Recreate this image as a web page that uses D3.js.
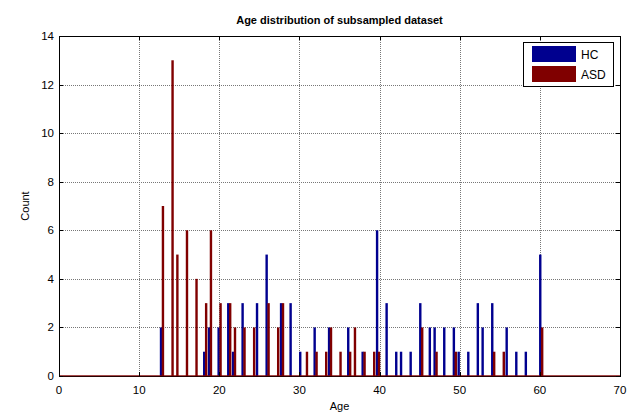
<!DOCTYPE html>
<html>
<head>
<meta charset="utf-8">
<script src="https://cdn.jsdelivr.net/npm/d3@7"></script>
<style>
  body { margin: 0; background: #fff; }
  svg { font-family: "Liberation Sans", Arial, sans-serif; }
</style>
</head>
<body>
<div id="chart"></div>
<script>
/* ---- data ---- */
var ages = [12.85,14.05,14.65,15.85,17.04,18.24,18.84,20.04,21.24,21.84,23.03,24.23,24.83,26.03,27.23,27.83,
            29.02,30.22,30.82,32.02,33.22,33.82,35.01,36.21,36.81,38.01,39.21,39.81,41.00,42.20,42.80,44.00,
            45.20,46.39,46.99,48.19,49.39,49.99,51.19,52.38,52.98,54.18,55.38,55.98,57.18,58.37,60.17];
var hcCounts  = [2,0,0,0,0,1,2,2,3,1,3,0,3,5,0,3,3,1,0,2,0,2,0,2,0,1,0,6,3,1,1,1,3,2,2,2,2,1,1,3,2,3,0,2,1,1,5];
var asdCounts = [7,13,5,6,4,3,6,3,3,2,2,2,0,3,2,3,0,0,1,1,1,2,1,1,2,1,1,1,0,0,0,0,2,0,1,0,1,0,0,0,0,1,1,0,0,0,2];
var seriesNames = ["HC", "ASD"];
var xTicks = [0,10,20,30,40,50,60,70];
var yTicks = [0,2,4,6,8,10,12,14];

var W = 643, H = 412;
// NB: "top" is taken by window.top, so plot edges get their own names
var plotL = 59, plotR = 620, plotT = 36, plotB = 376;
var colors = {HC: "#00008f", ASD: "#800000"};

var svg = d3.select("#chart").append("svg")
    .attr("width", W)
    .attr("height", H);

var x = d3.scaleLinear().domain([0, 70]).range([plotL, plotR]);
var y = d3.scaleLinear().domain([0, 14]).range([plotB, plotT]);

// grid (dotted, matlab style)
var grid = svg.append("g").attr("class", "grid");
xTicks.slice(1, -1).forEach(function(t){
    grid.append("line")
        .attr("x1", Math.round(x(t)) + 0.5).attr("x2", Math.round(x(t)) + 0.5)
        .attr("y1", plotT).attr("y2", plotB)
        .attr("stroke", "#777").attr("stroke-width", 1)
        .attr("stroke-dasharray", "1,1");
});
yTicks.slice(1, -1).forEach(function(t){
    grid.append("line")
        .attr("x1", plotL).attr("x2", plotR)
        .attr("y1", Math.round(y(t)) + 0.5).attr("y2", Math.round(y(t)) + 0.5)
        .attr("stroke", "#777").attr("stroke-width", 1)
        .attr("stroke-dasharray", "1,1");
});

// bars: HC left of bin centre, ASD right
var off = 0.12, bw = 0.3;
var rows = ages.map(function(a, i){ return {age: a, HC: hcCounts[i], ASD: asdCounts[i]}; });

seriesNames.forEach(function(name, s){
    svg.append("g").selectAll("rect")
        .data(rows.filter(function(d){ return d[name] > 0; }))
        .enter().append("rect")
        .attr("x", function(d){ return x(d.age + (s == 0 ? -off : off) - bw / 2); })
        .attr("width", x(bw) - x(0))
        .attr("y", function(d){ return y(d[name]); })
        .attr("height", function(d){ return y(0) - y(d[name]); })
        .attr("fill", colors[name]);
});

// axes box
svg.append("rect")
    .attr("x", plotL + 0.5).attr("y", plotT + 0.5)
    .attr("width", plotR - plotL).attr("height", plotB - plotT)
    .attr("fill", "none").attr("stroke", "#000").attr("stroke-width", 1);

// baseline (zero bars draw a red line)
svg.append("line")
    .attr("x1", plotL + 1).attr("x2", plotR)
    .attr("y1", plotB - 0.2).attr("y2", plotB - 0.2)
    .attr("stroke", "#800000").attr("stroke-width", 1);

// ticks inward on all four sides
var tk = svg.append("g").attr("stroke", "#000").attr("stroke-width", 1);
xTicks.forEach(function(t){
    var xx = Math.round(x(t)) + 0.5;
    tk.append("line").attr("x1", xx).attr("x2", xx).attr("y1", plotB).attr("y2", plotB - 4);
    tk.append("line").attr("x1", xx).attr("x2", xx).attr("y1", plotT).attr("y2", plotT + 4);
});
yTicks.forEach(function(t){
    var yy = Math.round(y(t)) + 0.5;
    tk.append("line").attr("x1", plotL).attr("x2", plotL + 4).attr("y1", yy).attr("y2", yy);
    tk.append("line").attr("x1", plotR).attr("x2", plotR - 4).attr("y1", yy).attr("y2", yy);
});

// tick labels
svg.append("g").selectAll("text")
    .data(xTicks).enter().append("text")
    .attr("x", function(d){ return x(d); })
    .attr("y", 394)
    .attr("text-anchor", "middle")
    .attr("font-size", "11.5px")
    .text(function(d){ return d; });

svg.append("g").selectAll("text")
    .data(yTicks).enter().append("text")
    .attr("x", plotL - 5)
    .attr("y", function(d){ return y(d) + 4; })
    .attr("text-anchor", "end")
    .attr("font-size", "11.5px")
    .text(function(d){ return d; });

// title + axis labels
svg.append("text")
    .attr("x", (plotL + plotR) / 2).attr("y", 24)
    .attr("text-anchor", "middle")
    .attr("font-size", "11px").attr("font-weight", "bold")
    .text("Age distribution of subsampled dataset");

svg.append("text")
    .attr("x", (plotL + plotR) / 2).attr("y", 410)
    .attr("text-anchor", "middle")
    .attr("font-size", "11px")
    .text("Age");

svg.append("text")
    .attr("transform", "translate(29," + ((plotT + plotB) / 2) + ") rotate(-90)")
    .attr("text-anchor", "middle")
    .attr("font-size", "11px")
    .text("Count");

// legend
var lg = svg.append("g");
lg.append("rect")
    .attr("x", 523.5).attr("y", 42.5)
    .attr("width", 90).attr("height", 44)
    .attr("fill", "#fff").attr("stroke", "#000").attr("stroke-width", 1);
seriesNames.forEach(function(name, i){
    lg.append("rect")
        .attr("x", 532).attr("y", 46 + i * 20)
        .attr("width", 44).attr("height", 16)
        .attr("fill", colors[name]);
    lg.append("text")
        .attr("x", 581).attr("y", 59 + i * 20)
        .attr("font-size", "12px")
        .text(name);
});
</script>
</body>
</html>
